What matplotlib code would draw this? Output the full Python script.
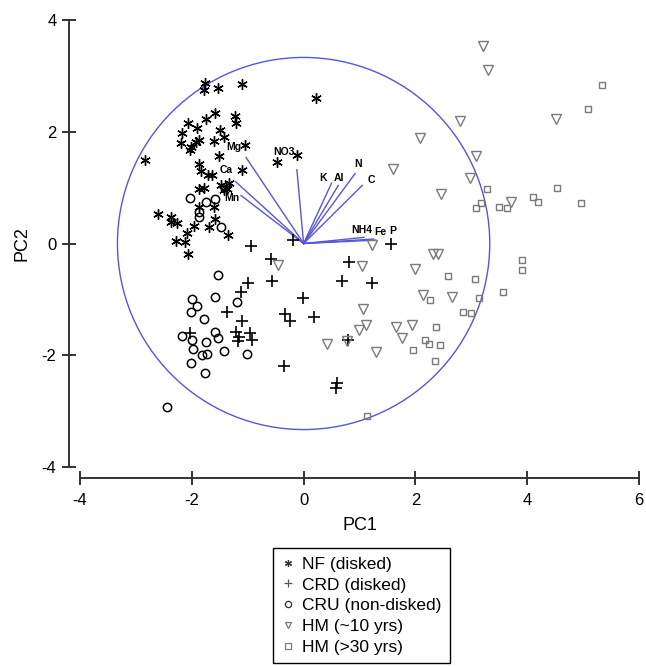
import matplotlib
matplotlib.use("Agg")
import matplotlib.pyplot as plt
from matplotlib.patches import Circle
from matplotlib.lines import Line2D

plt.rcParams['font.family'] = ['Liberation Sans', 'DejaVu Sans']
plt.rcParams['axes.unicode_minus'] = False

# ---- data ----
nf_x = [-1.76, -1.78, -1.54, -1.10, -1.58, -1.74, -1.22, -1.21, -2.06, -1.90, -2.17, -1.49,
        -1.42, -1.60, -1.87, -1.92, -2.19, -2.01, -2.03, -1.04, -2.83, -1.51, -1.88, -1.83,
        -1.71, -1.63, -1.10, -1.33, -1.47, -1.38, -1.42, -1.37, -1.87, -1.79, -1.87, -1.60,
        -2.60, -2.37, -2.38, -2.26, -1.96, -1.69, -1.58, -1.35, -2.08, -2.28, -2.12, -2.06,
        0.22, -0.12, -0.47]
nf_y = [2.88, 2.75, 2.79, 2.86, 2.34, 2.22, 2.29, 2.16, 2.15, 2.06, 1.97, 2.04,
        1.91, 1.84, 1.86, 1.82, 1.79, 1.72, 1.68, 1.77, 1.50, 1.57, 1.43, 1.29,
        1.23, 1.22, 1.32, 1.09, 1.04, 1.00, 0.95, 0.98, 0.98, 1.00, 0.66, 0.66,
        0.52, 0.48, 0.38, 0.36, 0.32, 0.30, 0.43, 0.16, 0.18, 0.04, 0.02, -0.18,
        2.61, 1.59, 1.45]

crd_x = [-0.94, -0.19, -0.58, 0.81, -0.99, -0.56, 0.69, 1.22, -1.12, -0.01, -1.37, -1.10,
         -0.33, -0.24, 0.19, -2.03, -1.21, -1.15, -1.17, -0.96, -0.92, -0.35, 0.79, 0.60,
         0.58, 1.56]
crd_y = [-0.04, 0.07, -0.27, -0.34, -0.70, -0.68, -0.68, -0.70, -0.86, -0.98, -1.23, -1.38,
         -1.27, -1.38, -1.31, -1.61, -1.59, -1.68, -1.74, -1.61, -1.72, -2.20, -1.72, -2.49,
         -2.58, 0.00]

cru_x = [-1.53, -1.99, -1.90, -2.01, -1.58, -1.19, -1.78, -2.17, -1.99, -1.58, -1.53, -1.74,
         -1.97, -1.42, -1.81, -1.72, -1.01, -2.01, -1.76, -2.44, -2.03, -1.74, -1.58, -1.87,
         -1.87, -1.47]
cru_y = [-0.57, -1.00, -1.11, -1.22, -0.95, -1.04, -1.36, -1.65, -1.72, -1.59, -1.70, -1.77,
         -1.88, -1.93, -2.00, -1.97, -1.97, -2.13, -2.31, -2.92, 0.82, 0.75, 0.79, 0.57,
         0.48, 0.29]

hm10_x = [3.21, 3.29, 2.79, 2.08, 4.51, 3.08, 1.60, 2.97, 2.46, 3.71, 2.31, 2.40, 1.99,
          2.13, 2.65, 1.94, 1.65, 1.76, 1.22, -0.46, 1.04, 1.06, 1.12, 0.99, 0.42, 0.78, 1.29]
hm10_y = [3.54, 3.11, 2.20, 1.88, 2.22, 1.56, 1.34, 1.18, 0.88, 0.75, -0.18, -0.18, -0.45,
          -0.93, -0.95, -1.45, -1.50, -1.70, -0.02, -0.38, -0.41, -1.18, -1.45, -1.54, -1.79,
          -1.74, -1.95]

hm30_x = [5.33, 5.08, 4.53, 3.28, 3.17, 3.08, 3.49, 3.63, 4.10, 4.19, 4.97, 3.90, 3.90,
          3.56, 2.58, 3.06, 2.26, 3.13, 2.85, 2.99, 2.37, 2.17, 2.24, 2.44, 1.96, 2.35, 1.13]
hm30_y = [2.83, 2.41, 1.00, 0.97, 0.73, 0.63, 0.66, 0.64, 0.84, 0.75, 0.72, -0.30, -0.48,
          -0.86, -0.59, -0.64, -1.02, -0.97, -1.22, -1.25, -1.50, -1.72, -1.79, -1.81, -1.91,
          -2.11, -3.09]

# loading vectors
var_names = ['Mg', 'Ca', 'Mn', 'NO3', 'K', 'Al', 'N', 'C', 'NH4', 'Fe', 'P']
var_x = [-1.03, -1.22, -1.12, -0.12, 0.50, 0.62, 0.92, 1.05, 1.08, 1.25, 1.29]
var_y = [1.54, 1.11, 0.86, 1.32, 1.08, 1.04, 1.25, 1.04, 0.11, 0.08, 0.06]
lab_x = [-1.24, -1.39, -1.28, -0.35, 0.35, 0.63, 0.97, 1.22, 1.04, 1.38, 1.60]
lab_y = [1.72, 1.32, 0.82, 1.63, 1.18, 1.18, 1.43, 1.13, 0.25, 0.21, 0.23]

circle_radius = 3.33
x_ticks = [-4, -2, 0, 2, 4, 6]
y_ticks = [-4, -2, 0, 2, 4]

legend_labels = ['NF (disked)', 'CRD (disked)', 'CRU (non-disked)', 'HM (~10 yrs)', 'HM (>30 yrs)']

# ---- figure ----
W, H = 646, 666
fig = plt.figure(figsize=(W / 100, H / 100), dpi=100)
ax = fig.add_axes([80 / W, 1 - 467 / H, 559 / W, 447 / H])

blue = '#5656dc'
grey = '#7a7a7a'
ast = (6, 2, 0)

ax.add_patch(Circle((0, 0), circle_radius, fill=False, ec=blue, lw=1.0, zorder=1))
for vx, vy in zip(var_x, var_y):
    ax.plot([0, vx], [0, vy], color=blue, lw=1.0, zorder=2)
for name, tx, ty in zip(var_names, lab_x, lab_y):
    ax.text(tx, ty, name, fontsize=7.5, fontweight='bold', ha='center', va='center', zorder=4)

kw = dict(linestyle='none', clip_on=False, zorder=3)
ax.plot(nf_x, nf_y, marker=ast, ms=7.5, mew=1.0, color='black', **kw)
ax.plot(crd_x, crd_y, marker='+', ms=8, mew=1.2, color='black', **kw)
ax.plot(cru_x, cru_y, marker='o', ms=6, mew=1.1, mfc='none', mec='black', **kw)
ax.plot(hm10_x, hm10_y, marker='v', ms=7, mew=1.0, mfc='none', mec=grey, **kw)
ax.plot(hm30_x, hm30_y, marker='s', ms=5, mew=1.0, mfc='none', mec=grey, **kw)

ax.set_xlim(-4, 6)
ax.set_ylim(-4, 4)
ax.set_xticks(x_ticks)
ax.set_yticks(y_ticks)
for s in ['top', 'right']:
    ax.spines[s].set_visible(False)
for s in ['left', 'bottom']:
    ax.spines[s].set_position(('outward', 8))
    ax.spines[s].set_color('#333333')
    ax.spines[s].set_linewidth(1.4)
ax.tick_params(direction='inout', length=10, width=1.4, color='#333333',
               labelsize=12, pad=4)
ax.tick_params(axis='x', pad=6)
ax.set_xlabel('PC1', fontsize=13, labelpad=6)
ax.set_ylabel('PC2', fontsize=13, labelpad=8)

handles = [
    Line2D([], [], linestyle='none', marker=ast, ms=5, mew=0.9, color='#333333'),
    Line2D([], [], linestyle='none', marker='+', ms=6, mew=0.9, color='#555555'),
    Line2D([], [], linestyle='none', marker='o', ms=4.5, mew=0.9, mfc='none', mec='#333333'),
    Line2D([], [], linestyle='none', marker='v', ms=5, mew=0.9, mfc='none', mec=grey),
    Line2D([], [], linestyle='none', marker='s', ms=4, mew=0.9, mfc='none', mec=grey),
]
leg = fig.legend(handles, legend_labels, loc='upper left',
                 bbox_to_anchor=(273 / W, 1 - 548 / H), borderaxespad=0,
                 fontsize=12.5, frameon=True, fancybox=False, framealpha=1,
                 edgecolor='black', handlelength=0.7, handletextpad=0.45,
                 labelspacing=0.32, borderpad=0.5)
leg.get_frame().set_linewidth(1.0)

fig.savefig('out.png', dpi=100)
